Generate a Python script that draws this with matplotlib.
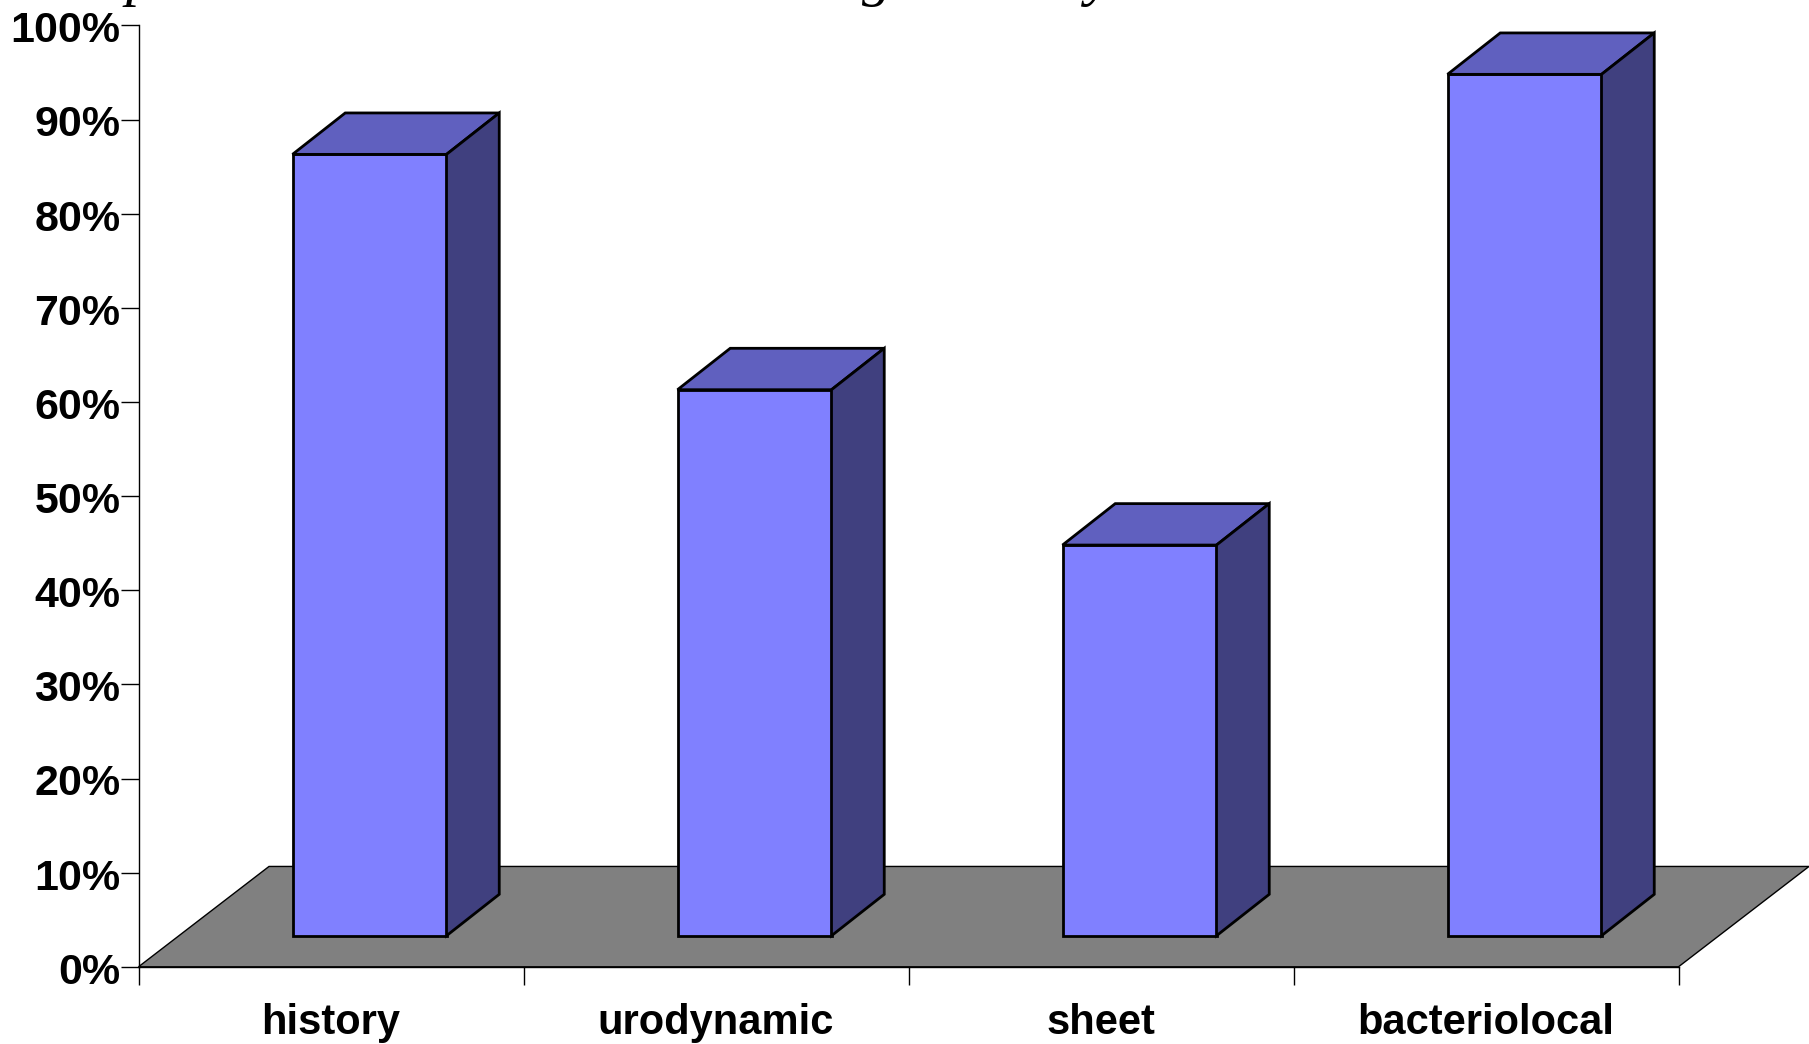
import matplotlib
matplotlib.use('Agg')
import matplotlib.pyplot as plt
from matplotlib.patches import Polygon
from matplotlib.transforms import ScaledTranslation

plt.rcParams['font.family'] = ['Liberation Sans', 'DejaVu Sans']

categories = ['history', 'urodynamic', 'sheet', 'bacteriolocal']
values = [83.0, 58.0, 41.5, 91.5]
y_ticks = [0, 10, 20, 30, 40, 50, 60, 70, 80, 90, 100]

# oblique projection, x in category units, y in percent
floor_dx, floor_dy = 0.339, 10.66
bar_shift, bar_width = 0.1, 0.4
bar_base = 3.3
side_dx, side_dy = 0.137, 4.4

fig = plt.figure(figsize=(18.09, 10.44), dpi=100, facecolor='white')
ax = fig.add_axes([138.5 / 1809, 1 - 966.8 / 1044, 1540 / 1809, 941.4 / 1044])
ax.set_xlim(0, 4)
ax.set_ylim(0, 100)

for s in ['top', 'right']:
    ax.spines[s].set_visible(False)
for s in ['left', 'bottom']:
    ax.spines[s].set_linewidth(1.0)

# floor
ax.add_patch(Polygon([(0, 0), (floor_dx, floor_dy), (4 + floor_dx, floor_dy), (4, 0)],
                     closed=True, fc='#808080', ec='black', lw=1.0, clip_on=False, zorder=1))

for i, v in enumerate(values):
    x0 = i + 0.5 - bar_width / 2 + bar_shift
    x1 = x0 + bar_width
    y0 = bar_base
    y1 = bar_base + v
    ax.add_patch(Polygon([(x0, y0), (x1, y0), (x1, y1), (x0, y1)], closed=True,
                         fc='#8080FF', ec='black', lw=2.0, joinstyle='miter', clip_on=False, zorder=3))
    ax.add_patch(Polygon([(x0, y1), (x1, y1), (x1 + side_dx, y1 + side_dy), (x0 + side_dx, y1 + side_dy)],
                         closed=True, fc='#6060BF', ec='black', lw=2.0, clip_on=False, zorder=3))
    ax.add_patch(Polygon([(x1, y0), (x1 + side_dx, y0 + side_dy), (x1 + side_dx, y1 + side_dy), (x1, y1)],
                         closed=True, fc='#40407F', ec='black', lw=2.0, clip_on=False, zorder=3))

ax.set_yticks(y_ticks)
ax.set_yticklabels([f'{t}%' for t in y_ticks], fontsize=31, fontweight='bold')
ax.set_xticks(range(5))
ax.set_xticklabels([])
ax.set_xticks([i + 0.5 for i in range(4)], minor=True)
ax.set_xticklabels(categories, minor=True, fontsize=30, fontweight='bold')
ax.tick_params(axis='y', length=13, width=1.0, pad=0)
ax.tick_params(axis='x', which='major', length=13, width=1.0)
ax.tick_params(axis='x', which='minor', length=0, pad=26)

# y labels sit slightly below their ticks
down = ScaledTranslation(0, -1 / 72, fig.dpi_scale_trans)
for label in ax.get_yticklabels():
    label.set_transform(label.get_transform() + down)

# heading runs off the top edge, only its descenders stay on the canvas
for letter, px in [('p', 126), ('g', 862), ('y', 1086)]:
    fig.text(px / 1809, 1 + 6 / 1044, letter, family='Liberation Serif', style='italic',
             fontsize=43, va='baseline', ha='left', color='black')

fig.savefig('out.png', dpi=100)
